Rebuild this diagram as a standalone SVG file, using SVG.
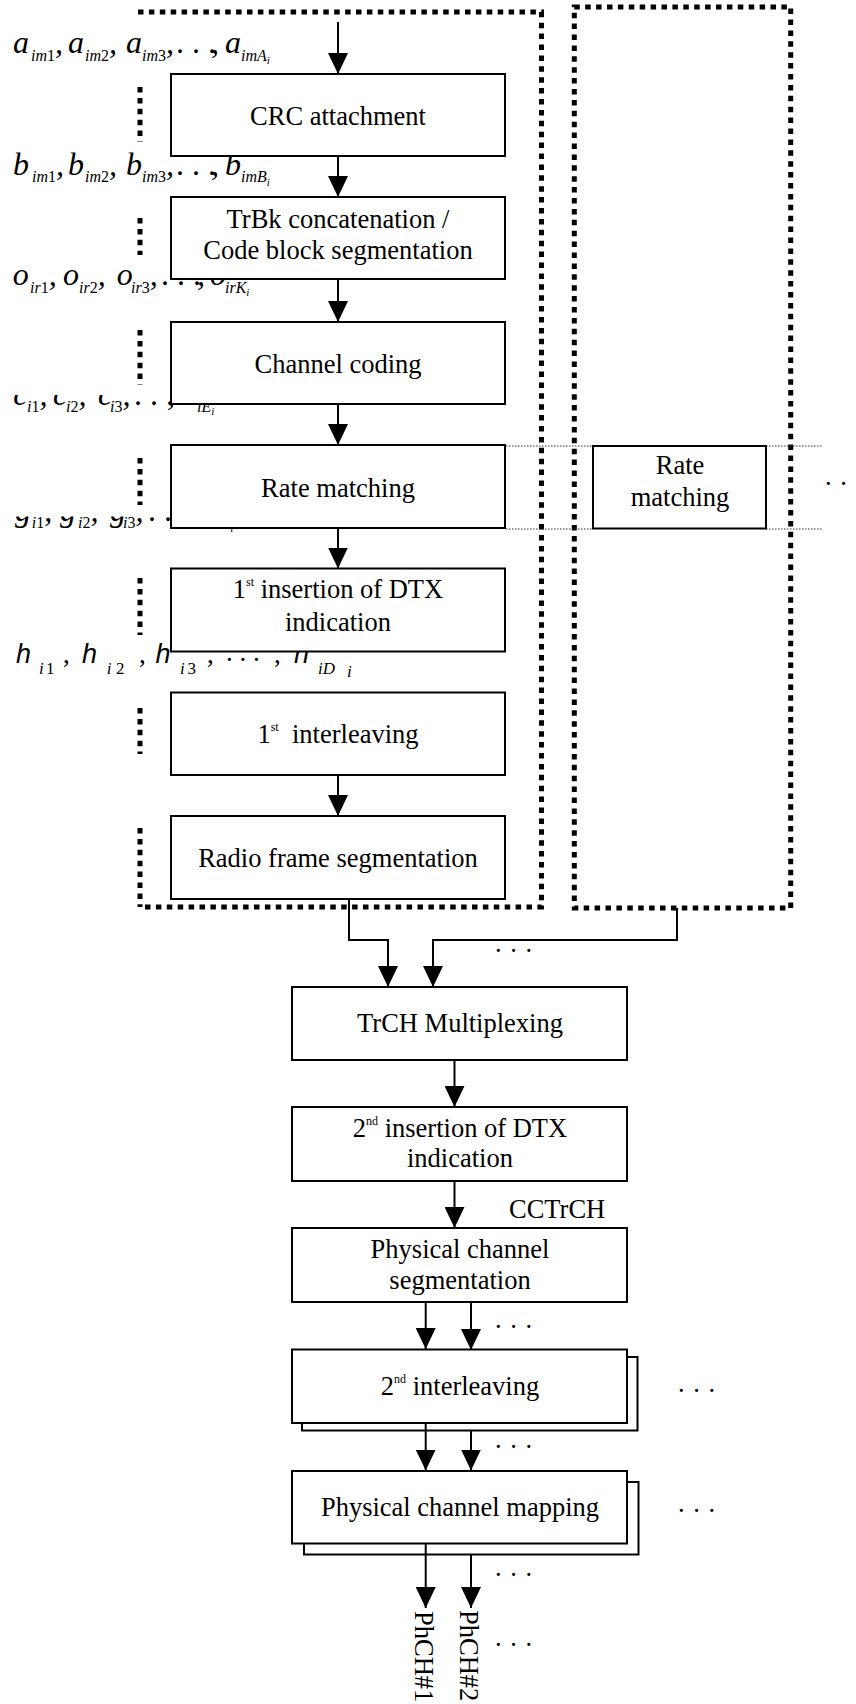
<svg xmlns="http://www.w3.org/2000/svg" width="856" height="1704" viewBox="0 0 856 1704">
<defs>
<style>
.box{fill:#fff;stroke:#000;stroke-width:2}
.t{font-family:"Liberation Serif","Times New Roman",serif;font-size:26.5px;fill:#000;text-anchor:middle}
.sup{font-size:12px}
.dt{fill:none;stroke:#000;stroke-width:5;stroke-dasharray:5.5 5.4}
.thin{fill:none;stroke:#333;stroke-width:1;stroke-dasharray:1.5 1.5}
.con{fill:none;stroke:#000;stroke-width:2}
.ar{marker-end:url(#ah)}
.m{font-family:"Liberation Serif","Times New Roman",serif;font-style:italic;font-size:32px;fill:#000}
.s{font-size:16px}
.u{font-style:normal}
.ss{font-size:11px}
.hm{font-family:"Liberation Sans",Arial,sans-serif;font-style:italic;font-size:27px;fill:#000}
.hs{font-family:"Liberation Serif","Times New Roman",serif;font-size:17px}
.hc{font-family:"Liberation Serif","Times New Roman",serif;font-style:normal}
.el{font-family:"Liberation Serif","Times New Roman",serif;font-size:26.5px;letter-spacing:1px;fill:#000}
.ph{font-family:"Liberation Serif","Times New Roman",serif;font-size:26.5px;fill:#000}
</style>
<marker id="ah" viewBox="0 0 21 20" refX="21" refY="10" markerWidth="21" markerHeight="20" markerUnits="userSpaceOnUse" orient="auto"><path d="M0,0 L21,10 L0,20 Z" fill="#000"/></marker>
<clipPath id="clipC"><rect x="0" y="395" width="171" height="30"/><rect x="171" y="404" width="60" height="20"/></clipPath>
<clipPath id="clipG"><rect x="0" y="516.5" width="300" height="20"/></clipPath>
</defs>
<rect width="856" height="1704" fill="#fff"/>

<g id="frames">
<path class="dt" d="M138,12 H541.5 V907 H140"/>
<path class="dt" d="M140,87 V142 M140,218 V255 M140,330 V385 M140,458 V505 M140,578 V635 M140,708 V754 M140,828 V907"/>
<rect class="dt" x="574.3" y="7" width="216.4" height="901"/>
<path class="thin" d="M506,446 H593 M766,446 H822 M506,529 H593 M766,529 H822"/>
</g>

<g id="labels">
<text class="m"><tspan x="13" y="53">a</tspan><tspan class="s" x="31" y="61">im</tspan><tspan class="s u">1</tspan><tspan y="53">,</tspan><tspan x="68" y="53">a</tspan><tspan class="s" x="85" y="61">im</tspan><tspan class="s u">2</tspan><tspan y="53">,</tspan><tspan x="126" y="53">a</tspan><tspan class="s" x="142" y="61">im</tspan><tspan class="s u">3</tspan><tspan y="53">,</tspan><tspan class="u" x="176" y="53">. . .</tspan><tspan x="211" y="53">,</tspan><tspan x="225" y="53">a</tspan><tspan class="s" x="241" y="61">imA</tspan><tspan class="ss" y="64">i</tspan></text>
<text class="m"><tspan x="13" y="174.5">b</tspan><tspan class="s" x="32" y="182">im</tspan><tspan class="s u">1</tspan><tspan y="174.5">,</tspan><tspan x="68" y="174.5">b</tspan><tspan class="s" x="85" y="182">im</tspan><tspan class="s u">2</tspan><tspan y="174.5">,</tspan><tspan x="126" y="174.5">b</tspan><tspan class="s" x="142" y="182">im</tspan><tspan class="s u">3</tspan><tspan y="174.5">,</tspan><tspan class="u" x="176" y="174.5">. . .</tspan><tspan x="211" y="174.5">,</tspan><tspan x="225" y="174.5">b</tspan><tspan class="s" x="241" y="182">imB</tspan><tspan class="ss" y="185.5">i</tspan></text>
<text class="m"><tspan x="12.7" y="285">o</tspan><tspan class="s" x="30" y="292.5">ir</tspan><tspan class="s u">1</tspan><tspan y="285">,</tspan><tspan x="63" y="285">o</tspan><tspan class="s" x="79" y="292.5">ir</tspan><tspan class="s u">2</tspan><tspan y="285">,</tspan><tspan x="116.7" y="285">o</tspan><tspan class="s" x="131" y="292.5">ir</tspan><tspan class="s u">3</tspan><tspan y="285">,</tspan><tspan class="u" x="161" y="285">. . .</tspan><tspan x="197" y="285">,</tspan><tspan x="210" y="285">o</tspan><tspan class="s" x="225" y="292.5">irK</tspan><tspan class="ss" y="296">i</tspan></text>
<text class="m" clip-path="url(#clipC)"><tspan x="13.3" y="405">c</tspan><tspan class="s" x="27" y="411.5">i</tspan><tspan class="s u">1</tspan><tspan y="405">,</tspan><tspan x="53" y="405">c</tspan><tspan class="s" x="66" y="411.5">i</tspan><tspan class="s u">2</tspan><tspan y="405">,</tspan><tspan x="98" y="405">c</tspan><tspan class="s" x="110" y="411.5">i</tspan><tspan class="s u">3</tspan><tspan y="405">,</tspan><tspan class="u" x="134" y="405">. . .</tspan><tspan x="167" y="405">,</tspan><tspan x="183" y="405">c</tspan><tspan class="s" x="197" y="411.5">iE</tspan><tspan class="ss" y="415">i</tspan></text>
<text class="m" clip-path="url(#clipG)"><tspan x="15" y="521">g</tspan><tspan class="s" x="31.7" y="528">i</tspan><tspan class="s u">1</tspan><tspan y="521">,</tspan><tspan x="60" y="521">g</tspan><tspan class="s" x="78" y="528">i</tspan><tspan class="s u">2</tspan><tspan y="521">,</tspan><tspan x="110" y="521">g</tspan><tspan class="s" x="123" y="528">i</tspan><tspan class="s u">3</tspan><tspan y="521">,</tspan><tspan class="u" x="148" y="521">. . .</tspan><tspan x="181" y="521">,</tspan><tspan x="200" y="521">g</tspan><tspan class="s" x="216" y="528">iF</tspan><tspan class="ss" y="531.5">i</tspan></text>
<text class="hm"><tspan x="16" y="663">h</tspan><tspan class="hs" x="39" y="673.5">i</tspan><tspan class="hs u" x="46" y="673.5">1</tspan><tspan class="hc" x="63" y="663">,</tspan><tspan x="82" y="663">h</tspan><tspan class="hs" x="106.7" y="673.5">i</tspan><tspan class="hs u" x="116" y="673.5">2</tspan><tspan class="hc" x="139" y="663">,</tspan><tspan x="155.5" y="663">h</tspan><tspan class="hs" x="180" y="673.5">i</tspan><tspan class="hs u" x="187.5" y="673.5">3</tspan><tspan class="hc" x="207" y="663">,</tspan><tspan class="hc" x="226" y="661">. . .</tspan><tspan class="hc" x="274" y="663">,</tspan><tspan x="294" y="663">h</tspan><tspan class="hs" x="318" y="673.5">iD</tspan><tspan class="hs" x="347" y="676.5" font-size="11">i</tspan></text>
</g>

<g id="n-crc"><rect class="box" x="171" y="74" width="334" height="82"/><text class="t" x="338" y="125">CRC attachment</text></g>
<g id="n-trbk"><rect class="box" x="171" y="197" width="334" height="82"/><text class="t" x="338" y="228">TrBk concatenation /</text><text class="t" x="338" y="259">Code block segmentation</text></g>
<g id="n-chcod"><rect class="box" x="171" y="322" width="334" height="82"/><text class="t" x="338" y="372.7">Channel coding</text></g>
<g id="n-rm"><rect class="box" x="171" y="445" width="334" height="83"/><text class="t" x="338" y="496.7">Rate matching</text></g>
<g id="n-ins1"><rect class="box" x="171" y="568.5" width="334" height="83"/><text class="t" x="338" y="598.3">1<tspan class="sup" dy="-12">st</tspan><tspan dy="12"> insertion of DTX</tspan></text><text class="t" x="338" y="630.7">indication</text></g>
<g id="n-int1"><rect class="box" x="171" y="692.5" width="334" height="82.5"/><text class="t" x="338" y="743.3" xml:space="preserve">1<tspan class="sup" dy="-12">st</tspan><tspan dy="12">  interleaving</tspan></text></g>
<g id="n-rfs"><rect class="box" x="171" y="816" width="334" height="83"/><text class="t" x="338" y="866.7">Radio frame segmentation</text></g>
<g id="n-rm2"><rect class="box" x="593" y="446" width="173" height="82.5"/><text class="t" x="680" y="474.3">Rate</text><text class="t" x="680" y="506">matching</text></g>
<g id="n-mux"><rect class="box" x="292" y="987" width="335" height="73"/><text class="t" x="460" y="1031.7">TrCH Multiplexing</text></g>
<g id="n-ins2"><rect class="box" x="292" y="1107" width="335" height="74"/><text class="t" x="460" y="1136.7">2<tspan class="sup" dy="-12">nd</tspan><tspan dy="12"> insertion of DTX</tspan></text><text class="t" x="460" y="1167.3">indication</text></g>
<g id="n-cctrch"><text class="ph" x="509" y="1218.3">CCTrCH</text></g>
<g id="n-pcs"><rect class="box" x="292" y="1228" width="335" height="74"/><text class="t" x="460" y="1258.3">Physical channel</text><text class="t" x="460" y="1289">segmentation</text></g>
<g id="n-int2"><rect class="box" x="302" y="1357" width="335.5" height="73.5"/><rect class="box" x="292" y="1349.5" width="335" height="73.5"/><text class="t" x="460" y="1395">2<tspan class="sup" dy="-12">nd</tspan><tspan dy="12"> interleaving</tspan></text></g>
<g id="n-pcm"><rect class="box" x="304" y="1482" width="334.5" height="72.5"/><rect class="box" x="292" y="1471" width="335" height="72.5"/><text class="t" x="460" y="1516">Physical channel mapping</text></g>
<g id="n-phch1"><text class="ph" transform="translate(415,1611) rotate(90)">PhCH#1</text></g>
<g id="n-phch2"><text class="ph" transform="translate(460,1610) rotate(90)">PhCH#2</text></g>

<g id="connectors">
<path class="con ar" d="M338,22 V74"/>
<path class="con ar" d="M338,157 V197"/>
<path class="con ar" d="M338,280 V322"/>
<path class="con ar" d="M338,405 V445"/>
<path class="con ar" d="M338,529 V568.5"/>
<path class="con ar" d="M338,776 V816"/>
<path class="con ar" d="M349,899 V940 H388 V987"/>
<path class="con ar" d="M677,908 V940 H433 V987"/>
<path class="con ar" d="M454.5,1060 V1107"/>
<path class="con ar" d="M454.5,1181 V1228"/>
<path class="con ar" d="M425.7,1302 V1349"/>
<path class="con ar" d="M471,1302 V1350"/>
<path class="con ar" d="M425.7,1423 V1470.5"/>
<path class="con ar" d="M471,1431 V1470.5"/>
<path class="con ar" d="M425.7,1543.5 V1608"/>
<path class="con ar" d="M471,1554.5 V1608"/>
</g>

<g id="ellipses">
<text class="el" x="495" y="952">. . .</text>
<text class="el" x="495" y="1328">. . .</text>
<text class="el" x="495" y="1448">. . .</text>
<text class="el" x="495" y="1575.5">. . .</text>
<text class="el" x="495" y="1645.5">. . .</text>
<text class="el" x="678" y="1392">. . .</text>
<text class="el" x="678" y="1511.5">. . .</text>
<text class="el" x="825" y="485">. . .</text>
</g>
</svg>
